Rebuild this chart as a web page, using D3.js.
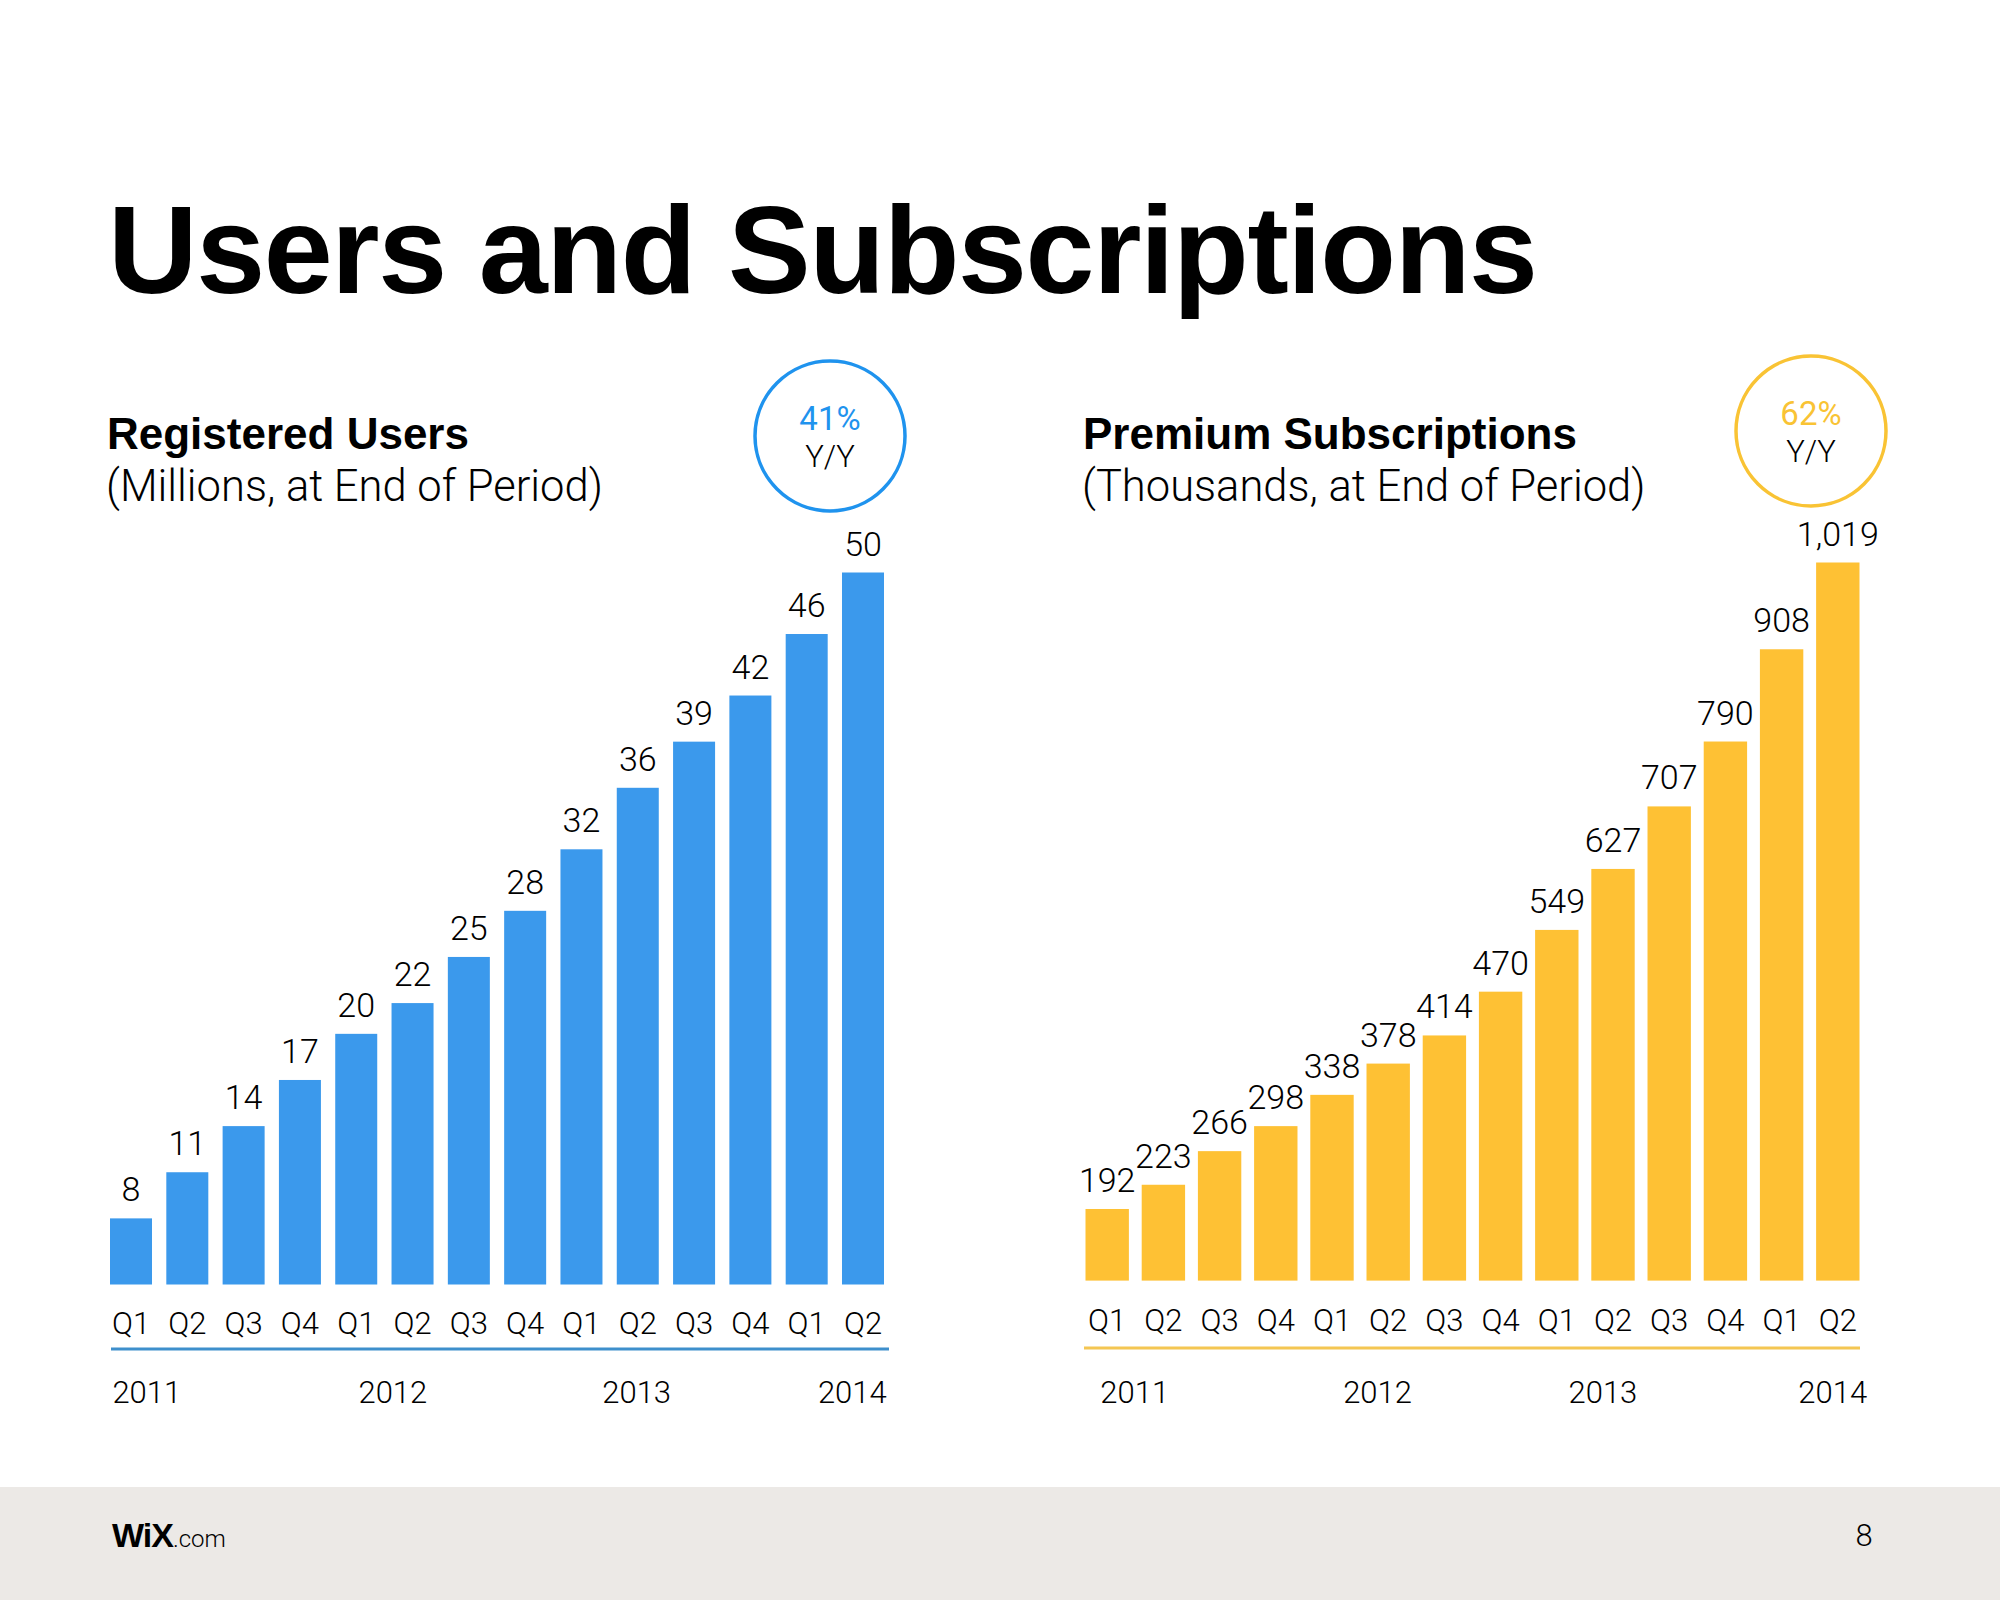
<!DOCTYPE html>
<html>
<head>
<meta charset="utf-8">
<script src="https://cdn.jsdelivr.net/npm/d3@7"></script>
<style>
  html, body { margin: 0; padding: 0; background: #fff; }
  svg { display: block; }
</style>
</head>
<body>
<svg id="chart" width="2000" height="1600"></svg>
<script>
// ---------- DATA ----------
const quarters = ["Q1","Q2","Q3","Q4","Q1","Q2","Q3","Q4","Q1","Q2","Q3","Q4","Q1","Q2"];
const years = ["2011","2012","2013","2014"];
const registeredUsers = [8, 11, 14, 17, 20, 22, 25, 28, 32, 36, 39, 42, 46, 50];
const premiumSubs = [192, 223, 266, 298, 338, 378, 414, 470, 549, 627, 707, 790, 908, 1019];
const usersGrowth = "41%";
const subsGrowth = "62%";

// ---------- STYLE ----------
const BOLD = "'Helvetica Neue', Helvetica, 'Liberation Sans', Arial, sans-serif";
const LIGHT = "Roboto, 'Liberation Sans', Arial, sans-serif";
const svg = d3.select("#chart");

svg.append("rect").attr("x", 0).attr("y", 0).attr("width", 2000).attr("height", 1600).attr("fill", "#fff");

// Title
svg.append("text")
  .attr("x", 108).attr("y", 293)
  .attr("font-family", BOLD).attr("font-weight", 700)
  .attr("font-size", 124).attr("letter-spacing", -1.4)
  .attr("fill", "#000")
  .text("Users and Subscriptions");

// Footer
svg.append("rect").attr("x", 0).attr("y", 1487).attr("width", 2000).attr("height", 113).attr("fill", "#ECE9E6");
const logo = svg.append("text").attr("x", 112).attr("y", 1547).attr("fill", "#000");
logo.append("tspan").attr("font-family", BOLD).attr("font-weight", 900).attr("font-size", 34)
  .attr("letter-spacing", -1).text("WiX");
logo.append("tspan").attr("font-family", LIGHT).attr("font-weight", 300).attr("font-size", 24).text(".com");
svg.append("text").attr("x", 1864).attr("y", 1546).attr("text-anchor", "middle")
  .attr("font-family", LIGHT).attr("font-weight", 300).attr("font-size", 31).attr("fill", "#000").text("8");

function drawPanel(cfg) {
  const g = svg.append("g");
  // heading
  g.append("text").attr("x", cfg.titleX).attr("y", 449)
    .attr("font-family", BOLD).attr("font-weight", 700).attr("font-size", 44).attr("fill", "#000")
    .text(cfg.title);
  g.append("text").attr("x", cfg.titleX - 1).attr("y", 501)
    .attr("font-family", LIGHT).attr("font-weight", 300).attr("font-size", 43.5).attr("fill", "#000")
    .text(cfg.subtitle);

  // growth circle
  g.append("circle").attr("cx", cfg.circle[0]).attr("cy", cfg.circle[1]).attr("r", 75)
    .attr("fill", "none").attr("stroke", cfg.circleColor).attr("stroke-width", 3.5);
  g.append("text").attr("x", cfg.circle[0]).attr("y", cfg.circle[1] - 6)
    .attr("text-anchor", "middle").attr("font-family", LIGHT).attr("font-weight", 400)
    .attr("font-size", 33).attr("fill", cfg.circleColor).text(cfg.growth);
  g.append("text").attr("x", cfg.circle[0]).attr("y", cfg.circle[1] + 31)
    .attr("text-anchor", "middle").attr("font-family", LIGHT).attr("font-weight", 300)
    .attr("font-size", 31).attr("fill", "#000").text("Y/Y");

  const idx = d3.range(cfg.values.length);
  const x = d3.scaleBand().domain(idx).range(cfg.xRange).paddingInner(cfg.padInner).paddingOuter(0);
  const y = d3.scaleLinear().domain(cfg.yDomain).range(cfg.yRange);

  g.selectAll("rect.bar").data(cfg.values).join("rect").attr("class", "bar")
    .attr("x", (d, i) => x(i)).attr("width", x.bandwidth())
    .attr("y", d => y(d)).attr("height", d => y(cfg.yDomain[0]) - y(d))
    .attr("fill", cfg.barColor);

  g.selectAll("text.val").data(cfg.values).join("text").attr("class", "val")
    .attr("x", (d, i) => x(i) + x.bandwidth() / 2).attr("y", d => y(d) - 17)
    .attr("text-anchor", "middle").attr("font-family", LIGHT).attr("font-weight", 300)
    .attr("font-size", 34).attr("fill", "#000")
    .text(d => d3.format(",")(d));

  // quarter axis
  const axis = d3.axisBottom(x).tickSize(0).tickPadding(0).tickFormat(i => quarters[i]);
  const ax = g.append("g").attr("transform", `translate(0,${cfg.qBaseline})`).call(axis);
  ax.select(".domain").remove();
  ax.selectAll("text").attr("dy", 0).attr("font-family", LIGHT).attr("font-weight", 300)
    .attr("font-size", 31).attr("fill", "#000");

  // rule
  g.append("line").attr("x1", cfg.rule[0]).attr("x2", cfg.rule[1])
    .attr("y1", cfg.ruleY).attr("y2", cfg.ruleY)
    .attr("stroke", cfg.ruleColor).attr("stroke-width", 3);

  // years
  g.selectAll("text.year").data(years).join("text").attr("class", "year")
    .attr("x", (d, i) => x(0) + x.bandwidth() / 2 + cfg.yearPos[i] * x.step())
    .attr("y", 1403).attr("text-anchor", "middle")
    .attr("font-family", LIGHT).attr("font-weight", 300).attr("font-size", 31).attr("fill", "#000")
    .text(d => d);
}

drawPanel({
  title: "Registered Users",
  subtitle: "(Millions, at End of Period)",
  titleX: 107,
  circle: [830, 436],
  circleColor: "#1F93EE",
  growth: usersGrowth,
  values: registeredUsers,
  xRange: [110, 884],
  padInner: 0.254,
  yDomain: [3.7, 50],
  yRange: [1284.5, 572.5],
  barColor: "#3B99EC",
  qBaseline: 1334,
  rule: [111, 889], ruleY: 1349, ruleColor: "#3E8FCC",
  yearPos: [0.28, 4.65, 8.98, 12.81]
});

drawPanel({
  title: "Premium Subscriptions",
  subtitle: "(Thousands, at End of Period)",
  titleX: 1083,
  circle: [1811, 431],
  circleColor: "#F9C334",
  growth: subsGrowth,
  values: premiumSubs,
  xRange: [1085.5, 1859.5],
  padInner: 0.228,
  yDomain: [100.4, 1019],
  yRange: [1280.6, 562.5],
  barColor: "#FEC134",
  qBaseline: 1331,
  rule: [1084, 1860], ruleY: 1348, ruleColor: "#F4C652",
  yearPos: [0.49, 4.81, 8.82, 12.91]
});
</script>
</body>
</html>
